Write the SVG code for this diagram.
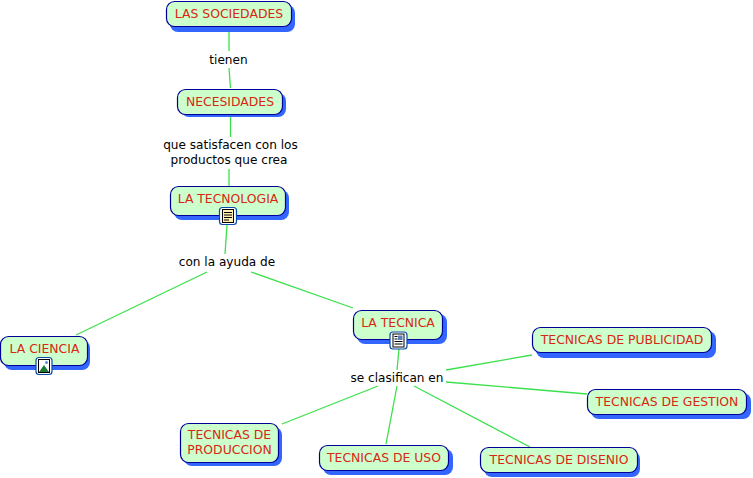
<svg xmlns="http://www.w3.org/2000/svg" width="753" height="478" viewBox="0 0 753 478">
<defs><style>
.s{fill:#3366ff}
.b{fill:#ccffcc;stroke:#000099;stroke-width:1.2}
.t{font-family:Verdana,"DejaVu Sans",sans-serif;font-size:12.4px;fill:#d92612;text-anchor:middle}
.l{font-family:Verdana,"DejaVu Sans",sans-serif;font-size:12.1px;fill:#000;text-anchor:middle}
.c{stroke:#3ce04c;stroke-width:1.3;fill:none}
.ib{fill:#fff;stroke:#0a4aa8;stroke-width:1.2}
</style></defs>
<rect width="753" height="478" fill="#fff"/>
<g id="connectors" class="c">
<path d="M229 30V51M229 68L230.500 88M230.500 117V137M229 169V186M227 225L225 254M207 272L76 335M251 272L353 308M399 349L397 370M446 370L532 355M446 382L587 394M378 386L282 424M397 386L386 444M414 386L530 447"/>
</g>
<g id="n1"><rect class="s" x="170" y="5" width="125" height="27" rx="8"/><rect class="b" x="166.500" y="1.500" width="125" height="25" rx="8"/><text class="t" x="229" y="18">LAS SOCIEDADES</text></g>
<g id="l1"><text class="l" x="228.500" y="64">tienen</text></g>
<g id="n2"><rect class="s" x="181" y="93" width="105" height="24" rx="8"/><rect class="b" x="177.500" y="89.500" width="105" height="25" rx="8"/><text class="t" x="230" y="106">NECESIDADES</text></g>
<g id="l2"><text class="l" x="230.500" y="149">que satisfacen con los</text><text class="l" x="229" y="164">productos que crea</text></g>
<g id="n3"><rect class="s" x="174" y="190" width="115" height="30" rx="8"/><rect class="b" x="170.500" y="186.500" width="115" height="29" rx="8"/><text class="t" x="228" y="203">LA TECNOLOGIA</text>
<rect class="ib" x="219.500" y="207.500" width="17" height="17" rx="3"/><rect x="222.500" y="209.500" width="11" height="13" fill="#ffefb0" stroke="#000"/><path d="M224 212.500h8M224 215h8M224 217.500h8M224 220h5" stroke="#000"/></g>
<g id="l3"><text class="l" x="227" y="266">con la ayuda de</text></g>
<g id="n4"><rect class="s" x="4" y="340" width="86" height="30" rx="8"/><rect class="b" x="0.500" y="336.500" width="87" height="29" rx="8"/><text class="t" x="44.500" y="353">LA CIENCIA</text>
<rect class="ib" x="36" y="357.500" width="16" height="17" rx="3"/><rect x="38.500" y="359.500" width="11" height="13" fill="#fff" stroke="#000"/><path d="M39 372l5-7 5 7z" fill="#1f7a3a"/><circle cx="46.500" cy="362.500" r="1.500" fill="#5b8fd5"/></g>
<g id="n5"><rect class="s" x="357" y="314" width="90" height="30" rx="8"/><rect class="b" x="353.500" y="310.500" width="89" height="29" rx="8"/><text class="t" x="398" y="327">LA TECNICA</text>
<rect class="ib" x="390" y="332" width="17" height="17" rx="3"/><rect x="393" y="334" width="11" height="13" fill="#fff" stroke="#000"/><path d="M394.500 336.500h3M394.500 339h3M394.500 341.500h8M394.500 344h8" stroke="#000"/><rect x="398" y="335.500" width="4.500" height="4.500" fill="#5b7fb5"/></g>
<g id="l4"><text class="l" x="397" y="382">se clasifican en</text></g>
<g id="n6"><rect class="s" x="536" y="331" width="180" height="27" rx="8"/><rect class="b" x="532.500" y="327.500" width="179" height="25" rx="8"/><text class="t" x="622" y="344">TECNICAS DE PUBLICIDAD</text></g>
<g id="n7"><rect class="s" x="591" y="393" width="160" height="26" rx="8"/><rect class="b" x="587.500" y="389.500" width="159" height="25" rx="8"/><text class="t" x="667" y="406">TECNICAS DE GESTION</text></g>
<g id="n8"><rect class="s" x="184" y="427" width="98" height="39" rx="8"/><rect class="b" x="180.500" y="423.500" width="98" height="39" rx="8"/><text class="t" x="229.500" y="439">TECNICAS DE</text><text class="t" x="229.500" y="454">PRODUCCION</text></g>
<g id="n9"><rect class="s" x="323" y="449" width="130" height="26" rx="8"/><rect class="b" x="319.500" y="445.500" width="129" height="25" rx="8"/><text class="t" x="384" y="462">TECNICAS DE USO</text></g>
<g id="n10"><rect class="s" x="484" y="451" width="156" height="26" rx="8"/><rect class="b" x="480.500" y="447.500" width="157" height="25" rx="8"/><text class="t" x="559" y="464">TECNICAS DE DISENIO</text></g>
</svg>
